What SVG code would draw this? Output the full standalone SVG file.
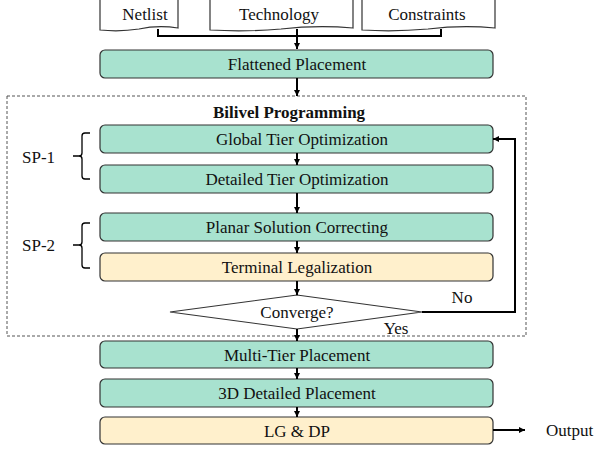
<svg xmlns="http://www.w3.org/2000/svg" width="594" height="450" viewBox="0 0 594 450">
<style>
  text { font-family: "Liberation Serif", "Times New Roman", serif; font-size: 17px; fill: #111; }
  .box { stroke: #333; stroke-width: 1.2; }
  .g { fill: #a8e2cf; }
  .y { fill: #fff0cc; }
  .doc { fill: #fff; stroke: #333; stroke-width: 1.2; }
  .c { fill: none; stroke: #000; stroke-width: 2; }
  .brace { fill: none; stroke: #000; stroke-width: 1.3; }
</style>
<defs>
  <marker id="ah" viewBox="0 0 6 6" refX="6" refY="3" markerWidth="6" markerHeight="6" markerUnits="userSpaceOnUse" orient="auto">
    <path d="M0,0 L6,3 L0,6 Z" fill="#000"/>
  </marker>
</defs>
<rect width="594" height="450" fill="#fff"/>

<g id="netlist">
  <path class="doc" d="M100,-2 H178 V28 Q158,25 139,29 Q120,32 100,30 Z"/>
  <text x="145" y="20" text-anchor="middle">Netlist</text>
</g>
<g id="technology">
  <path class="doc" d="M210,-2 H353 V28 Q317,25 281,29 Q246,32 210,30 Z"/>
  <text x="279" y="20" text-anchor="middle">Technology</text>
</g>
<g id="constraints">
  <path class="doc" d="M362,-2 H495 V28 Q462,25 428,29 Q395,32 362,30 Z"/>
  <text x="427" y="20" text-anchor="middle">Constraints</text>
</g>

<g id="bilevel-frame">
  <rect x="7" y="96" width="519" height="240" fill="none" stroke="#555" stroke-width="1" stroke-dasharray="3,2"/>
  <text x="289" y="118" text-anchor="middle" font-weight="bold">Bilivel Programming</text>
</g>

<g id="flattened">
  <rect class="box g" x="100" y="50" width="393" height="28" rx="5"/>
  <text x="297" y="70" text-anchor="middle">Flattened Placement</text>
</g>
<g id="global-tier">
  <rect class="box g" x="100" y="125" width="393" height="28" rx="5"/>
  <text x="302" y="145" text-anchor="middle">Global Tier Optimization</text>
</g>
<g id="detailed-tier">
  <rect class="box g" x="100" y="165" width="393" height="28" rx="5"/>
  <text x="297" y="185" text-anchor="middle">Detailed Tier Optimization</text>
</g>
<g id="planar">
  <rect class="box g" x="100" y="213" width="393" height="28" rx="5"/>
  <text x="297" y="233" text-anchor="middle">Planar Solution Correcting</text>
</g>
<g id="terminal">
  <rect class="box y" x="100" y="253" width="393" height="28" rx="5"/>
  <text x="297" y="273" text-anchor="middle">Terminal Legalization</text>
</g>
<g id="converge">
  <path d="M170,312 L297,295 L422,312 L297,329 Z" fill="#fff" stroke="#333" stroke-width="1.2"/>
  <text x="297" y="318" text-anchor="middle">Converge?</text>
</g>
<g id="multi-tier">
  <rect class="box g" x="100" y="341" width="393" height="27" rx="5"/>
  <text x="297" y="361" text-anchor="middle">Multi-Tier Placement</text>
</g>
<g id="detailed-3d">
  <rect class="box g" x="100" y="379" width="393" height="28" rx="5"/>
  <text x="297" y="399" text-anchor="middle">3D Detailed Placement</text>
</g>
<g id="lgdp">
  <rect class="box y" x="100" y="417" width="393" height="27" rx="5"/>
  <text x="297" y="437" text-anchor="middle">LG &amp; DP</text>
</g>

<g id="sp1">
  <text x="22" y="163">SP-1</text>
  <path class="brace" d="M90,133 H85 Q82,133 82,136 V153 Q82,156 79,156 H73 M79,156 Q82,156 82,159 V176 Q82,179 85,179 H90"/>
</g>
<g id="sp2">
  <text x="22" y="251">SP-2</text>
  <path class="brace" d="M90,223 H85 Q82,223 82,226 V242 Q82,245 79,245 H73 M79,245 Q82,245 82,248 V265 Q82,268 85,268 H90"/>
</g>

<g id="connectors">
  <path class="c" d="M158,29 V36 H441 V29"/>
  <path class="c" d="M297,29 V49" marker-end="url(#ah)"/>
  <path class="c" d="M297,78 V96" marker-end="url(#ah)"/>
  <path class="c" d="M297,153 V165" marker-end="url(#ah)"/>
  <path class="c" d="M297,193 V213" marker-end="url(#ah)"/>
  <path class="c" d="M297,241 V253" marker-end="url(#ah)"/>
  <path class="c" d="M297,281 V295" marker-end="url(#ah)"/>
  <path class="c" d="M297,329 V341" marker-end="url(#ah)"/>
  <path class="c" d="M297,368 V379" marker-end="url(#ah)"/>
  <path class="c" d="M297,407 V417" marker-end="url(#ah)"/>
  <path class="c" d="M422,312 H515 V139 H493" marker-end="url(#ah)"/>
  <path class="c" d="M493,430 H525" stroke-width="1.5" marker-end="url(#ah)"/>
  <text x="462" y="303" text-anchor="middle">No</text>
  <text x="396" y="334" text-anchor="middle">Yes</text>
  <text x="546" y="436">Output</text>
</g>
</svg>
